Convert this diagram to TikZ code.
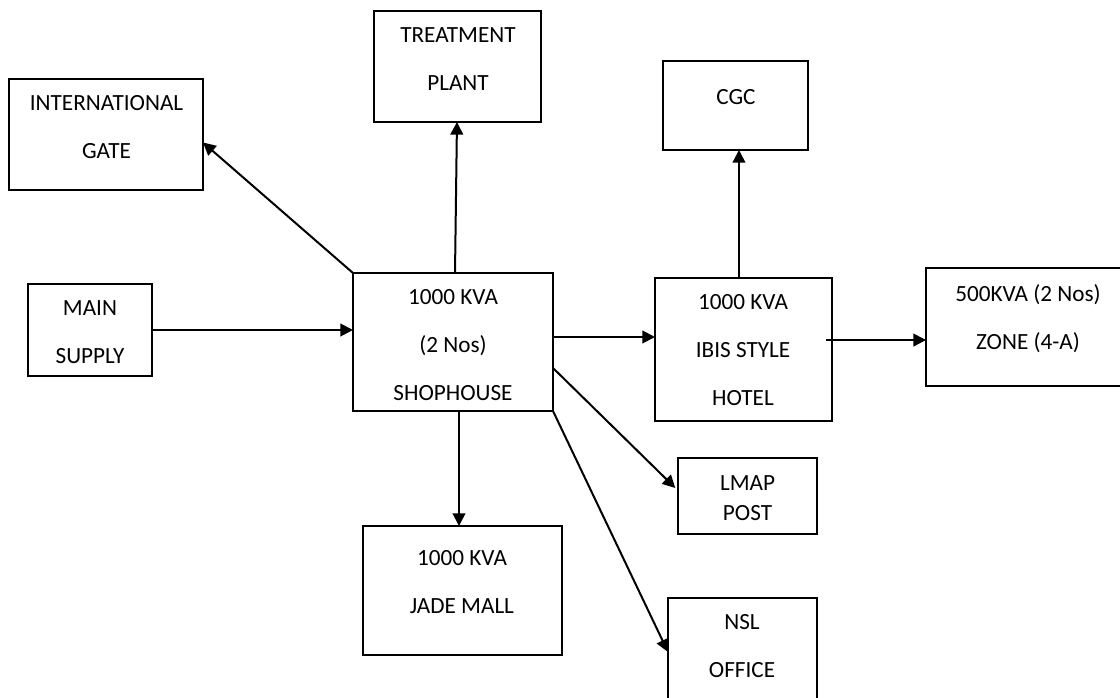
\documentclass[tikz,border=0pt]{standalone}
\usepackage{fontspec}
\setmainfont{Carlito}
\usetikzlibrary{arrows.meta}
\begin{document}
\begin{tikzpicture}[x=0.75pt,y=-0.75pt,
  box/.style={draw, rectangle, line width=1.6pt, inner sep=0pt, outer sep=0pt},
  txt/.style={align=center, inner sep=0pt, font=\fontsize{17.4}{36}\selectfont},
  link/.style={line width=1.5pt, -{Triangle[length=9.5pt,width=9.5pt]}}]
\useasboundingbox (0,0) rectangle (1120,698);
\clip (0,0) rectangle (1120,698);

% boxes
\node[box, minimum width=145.5pt, minimum height=83.25pt] (ig) at (106,134.5) {};
\node[box, minimum width=93pt, minimum height=69pt] (ms) at (90,330) {};
\node[box, minimum width=125.25pt, minimum height=83.25pt] (tp) at (457.5,66.5) {};
\node[box, minimum width=108.75pt, minimum height=66.75pt] (cgc) at (735.5,105.5) {};
\node[box, minimum width=150pt, minimum height=103.5pt] (sh) at (453,342) {};
\node[box, minimum width=132.75pt, minimum height=107.25pt] (ib) at (743.5,349.5) {};
\node[box, minimum width=156.75pt, minimum height=88.5pt] (z4) at (1030.5,327) {};
\node[box, minimum width=104.25pt, minimum height=57pt] (lm) at (747.5,496) {};
\node[box, minimum width=149.25pt, minimum height=96.75pt] (jm) at (462.5,590.5) {};
\node[box, minimum width=111.75pt, minimum height=91.5pt] (ns) at (742.5,659) {};

% texts
\node[txt] (igt) at (106.5,127.5) {INTERNATIONAL\\GATE};
\node[txt] (mst) at (90,332.5) {MAIN\\SUPPLY};
\node[txt] (tpt) at (458,59) {TREATMENT\\PLANT};
\node[txt] (cgct) at (736,97) {CGC};
\node[txt] (sht) at (453,345.5) {1000 KVA\\(2 Nos)\\SHOPHOUSE};
\node[txt] (ibt) at (743,350.5) {1000 KVA\\IBIS STYLE\\HOTEL};
\node[txt] (z4t) at (1028,319) {500KVA (2 Nos)\\ZONE (4-A)};
\node[txt, font=\fontsize{17.4}{22.5}\selectfont] (lmt) at (747.5,498) {LMAP\\POST};
\node[txt] (jmt) at (462,582.5) {1000 KVA\\JADE MALL};
\node[txt] (nst) at (742,646) {NSL\\OFFICE};

% helper coordinates
\coordinate (shi) at ([yshift=3.75pt]sh.east);
\coordinate (ibz) at ([xshift=-4.5pt,yshift=7.1pt]ib.east);
\coordinate (shj) at ([xshift=4.5pt]sh.south);

% connectors
\draw[link] (ms.east) -- (ms.east -| sh.west);
\draw[link] (sh.north west) -- ([yshift=-6pt]ig.east);
\draw[link] ([xshift=1.5pt]sh.north) -- ([xshift=-0.4pt]tp.south);
\draw[link] ([xshift=-3.4pt]ib.north) -- ([xshift=2.6pt]cgc.south);
\draw[link] (shi) -- (shi -| ib.west);
\draw[link] (ibz) -- (ibz -| z4.west);
\draw[link] ([yshift=-19.5pt]sh.east) -- ([xshift=-2pt,yshift=6pt]lm.west);
\draw[link] (shj) -- (shj |- jm.north);
\draw[link] (sh.south east) -- ([yshift=-40.5pt]ns.north west);
\end{tikzpicture}
\end{document}
